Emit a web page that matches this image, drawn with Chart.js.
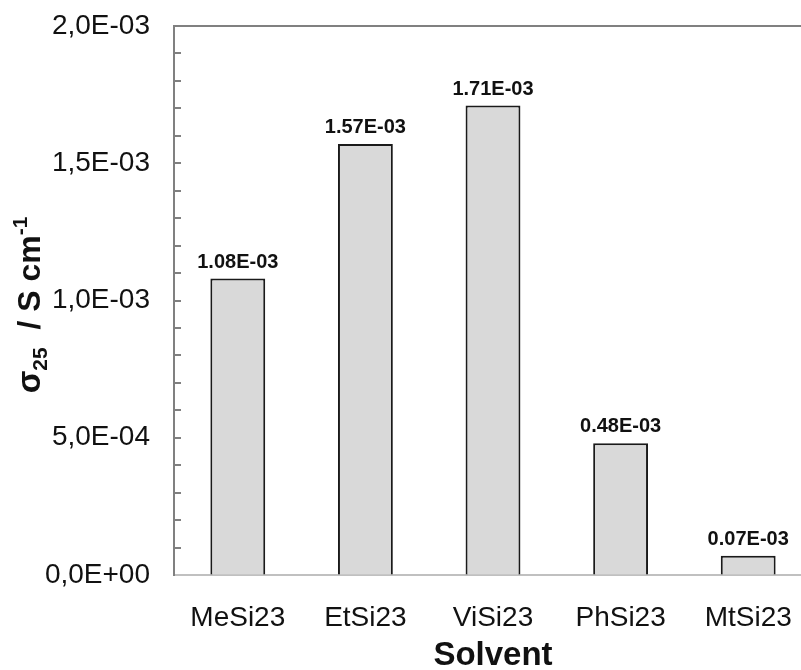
<!DOCTYPE html>
<html>
<head>
<meta charset="utf-8">
<script src="https://cdn.jsdelivr.net/npm/chart.js@4.4.1/dist/chart.umd.min.js"></script>
<style>
  html, body { margin: 0; padding: 0; background: #fff; overflow: hidden; }
  #wrap { width: 812px; height: 670px; }
</style>
</head>
<body>
<div id="wrap"><canvas id="chart" width="812" height="670"></canvas></div>
<script>
// data
const solvents = ["MeSi23", "EtSi23", "ViSi23", "PhSi23", "MtSi23"];
const conductivity = [1.08e-3, 1.57e-3, 1.71e-3, 0.48e-3, 0.07e-3];
const valueLabels = ["1.08E-03", "1.57E-03", "1.71E-03", "0.48E-03", "0.07E-03"];
const yMax = 2.0e-3;
const yMajor = 5e-4;
const yMinor = 1e-4;

const FONT = "'Liberation Sans', Arial, sans-serif";
Chart.defaults.font.family = FONT;

// 1.5e-3 -> "1,5E-03"
function sciComma(v) {
  if (Math.abs(v) < 1e-12) return "0,0E+00";
  let exp = Math.floor(Math.log10(Math.abs(v)) + 1e-9);
  let mant = (v / Math.pow(10, exp)).toFixed(1).replace(".", ",");
  let sign = exp < 0 ? "-" : "+";
  return mant + "E" + sign + String(Math.abs(exp)).padStart(2, "0");
}

const frame = {
  id: "frame",
  afterDatasetsDraw(chart) {
    const { ctx, chartArea: a, scales: { y } } = chart;
    ctx.save();

    // top border + inside ticks
    ctx.strokeStyle = "#808080";
    ctx.lineWidth = 2;
    ctx.beginPath();
    ctx.moveTo(a.left - 1, a.top);
    ctx.lineTo(a.right, a.top);
    const n = Math.round(yMax / yMinor);
    for (let k = 1; k < n; k++) {
      const py = Math.round(y.getPixelForValue(k * yMinor));
      ctx.moveTo(a.left, py);
      ctx.lineTo(a.left + 7, py);
    }
    ctx.stroke();

    // value labels above bars
    ctx.fillStyle = "#111";
    ctx.font = "bold 20px " + FONT;
    ctx.textAlign = "center";
    ctx.textBaseline = "alphabetic";
    chart.getDatasetMeta(0).data.forEach((bar, i) => {
      ctx.fillText(valueLabels[i], bar.x, bar.y - 11);
    });

    // y title: sigma_25 / S cm^-1
    const parts = [
      { t: "σ", size: 33, dy: 0 },
      { t: "25", size: 21, dy: 7 },
      { t: "  / S cm", size: 32, dy: 0 },
      { t: "-1", size: 21, dy: -13 }
    ];
    let total = 0;
    parts.forEach(p => {
      ctx.font = "bold " + p.size + "px " + FONT;
      p.w = ctx.measureText(p.t).width;
      total += p.w;
    });
    ctx.translate(40, 305);
    ctx.rotate(-Math.PI / 2);
    ctx.textAlign = "left";
    let x = -total / 2;
    parts.forEach(p => {
      ctx.font = "bold " + p.size + "px " + FONT;
      ctx.fillText(p.t, x, p.dy);
      x += p.w;
    });
    ctx.restore();
  }
};

// invisible tick marks only to space the labels away from the axis
const hiddenTicks = len => ({
  display: true, drawOnChartArea: false, drawTicks: true,
  tickLength: len, tickColor: "rgba(0,0,0,0)", color: "rgba(0,0,0,0)"
});

new Chart(document.getElementById("chart"), {
  type: "bar",
  data: {
    labels: solvents,
    datasets: [{
      data: conductivity,
      backgroundColor: "#d9d9d9",
      borderColor: "#1a1a1a",
      borderWidth: 2,
      borderSkipped: "bottom",
      barPercentage: 0.43,
      categoryPercentage: 1.0
    }]
  },
  options: {
    responsive: false,
    animation: false,
    layout: { padding: { top: 26, right: 0, left: 0, bottom: 0 } },
    plugins: { legend: { display: false }, tooltip: { enabled: false } },
    scales: {
      x: {
        grid: hiddenTicks(26),
        border: { display: true, color: "#c0c0c0", width: 2 },
        ticks: { color: "#111", font: { size: 28 }, padding: 0 },
        title: {
          display: true, text: "Solvent", color: "#111",
          font: { size: 33, weight: "bold" }, padding: { top: 0, bottom: -6 }
        },
        afterFit: s => { s.height = 95; }
      },
      y: {
        min: 0,
        max: yMax,
        grid: hiddenTicks(24),
        border: { display: true, color: "#808080", width: 2 },
        ticks: {
          stepSize: yMajor, color: "#111", font: { size: 28 }, padding: 0,
          callback: v => sciComma(v)
        },
        afterFit: s => { s.width = 174; }
      }
    }
  },
  plugins: [frame]
});
</script>
</body>
</html>
